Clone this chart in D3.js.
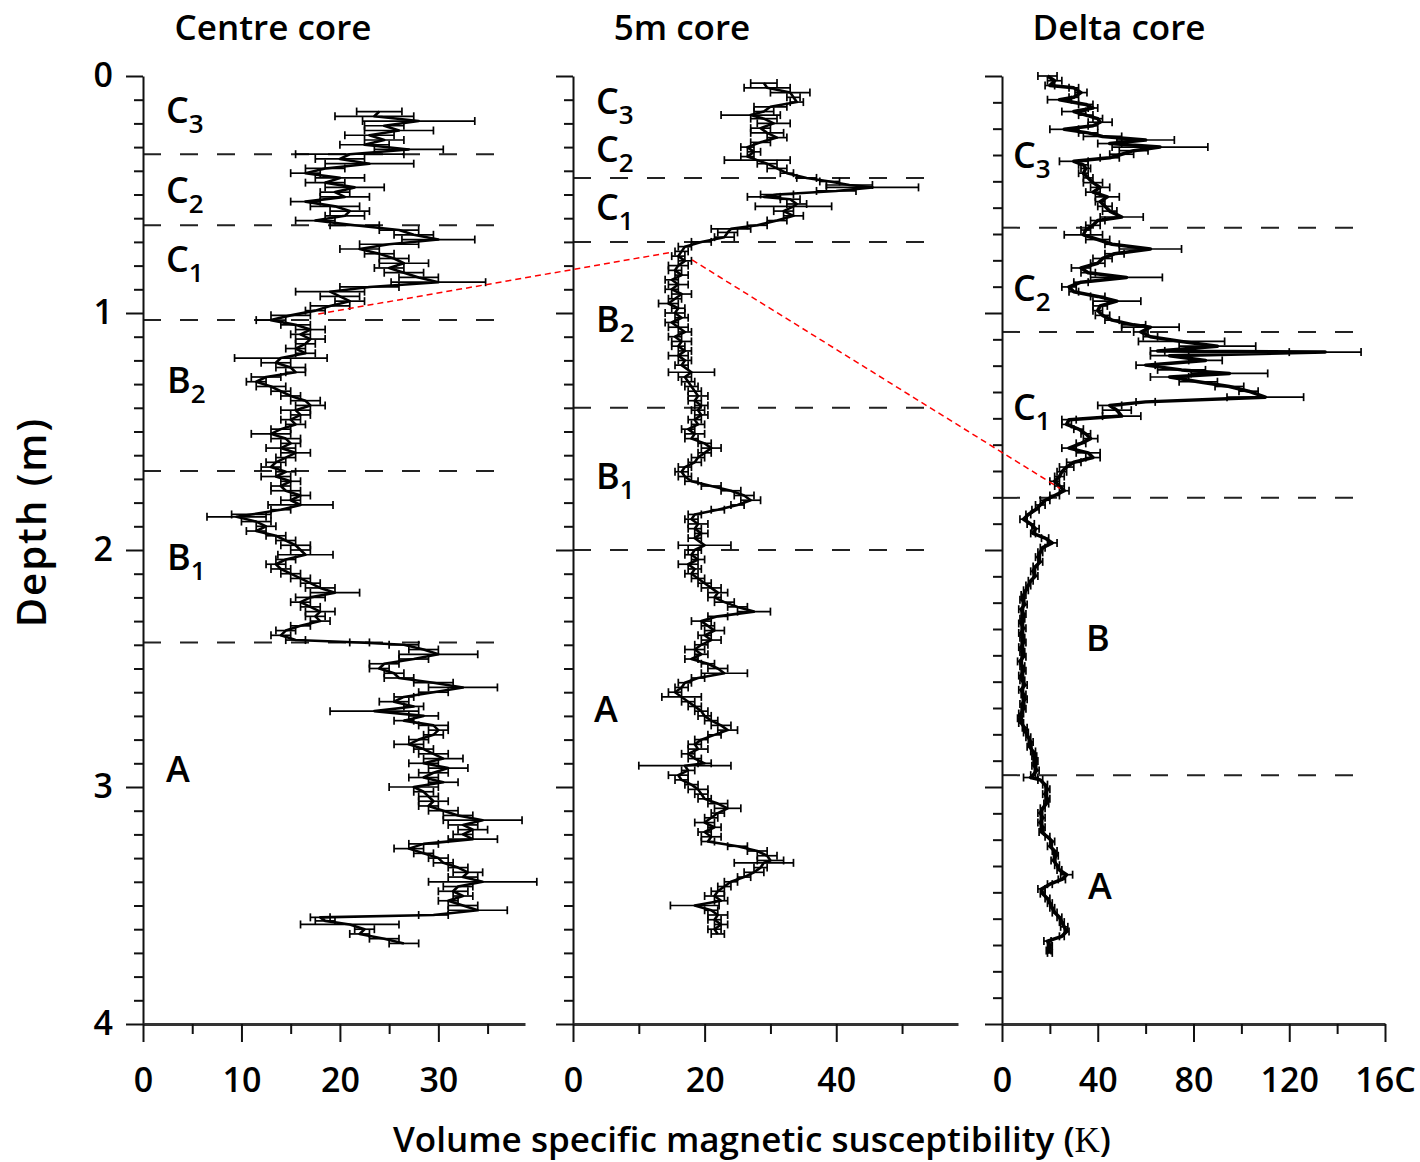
<!DOCTYPE html>
<html>
<head>
<meta charset="utf-8">
<title>Magnetic susceptibility cores</title>
<script src="https://cdn.jsdelivr.net/npm/d3@7"></script>
<style>
  body { margin: 0; background: #fff; }
  text { font-family: "Open Sans", "Noto Sans", sans-serif; fill: #000; }
</style>
</head>
<body>
<div id="chart"></div>
<script>
var width = 1420, height = 1162;

// ---- data (depth m, susceptibility, error half-width) ----
var coreNames = ["Centre core", "5m core", "Delta core"];
var xMax = [38.8, 58.5, 160];
var xMajor = [[0, 10, 20, 30], [0, 20, 40], [0, 40, 80, 120, 160]];
var xMinor = [[5, 15, 25, 35], [10, 30, 50], [20, 60, 100, 140]];
var xTickText = [["0", "10", "20", "30"], ["0", "20", "40"], ["0", "40", "80", "120", "16C"]];
var depthTicks = [0, 1, 2, 3, 4];
var minorPerMetre = [10, 10, 9];
var boundaries = [[0.33, 0.63, 1.03, 1.667, 2.39], [0.43, 0.70, 1.40, 2.0], [0.64, 1.08, 1.78, 2.95]];

var centreCore = [
  [0.15,24,2.3],[0.17,23.5,4],[0.19,28,5.7],[0.21,24.5,2],[0.23,26,3.5],[0.25,23,2.5],[0.27,24.5,2],
  [0.29,22.5,2.5],[0.31,27,3.5],[0.33,21,5.5],[0.35,20,2.5],[0.37,23,4.5],[0.39,18.5,2],[0.41,16.5,1.5],
  [0.43,20,2.5],[0.45,18.5,2],[0.47,21.5,3],[0.49,19.5,1.5],[0.51,20.5,2.5],[0.53,16.5,1.5],[0.55,19.5,2.5],
  [0.57,21,2],[0.59,20.5,2],[0.61,17.5,2],[0.63,21.5,2.5],[0.65,26,2],[0.67,27.5,2],[0.69,30,3.7],
  [0.71,25,3],[0.73,22,2],[0.75,24,1.5],[0.77,25.5,1.5],[0.79,26.5,2.5],[0.81,25,1.5],[0.83,26.5,2],
  [0.85,28,2],[0.87,30,4.8],[0.89,23,3],[0.91,19,3.5],[0.93,20,2],[0.95,21,1.5],[0.97,19,2],[0.99,17.5,1],
  [1.01,15,2],[1.03,13,1.5],[1.05,15.5,1.5],[1.07,17,1.5],[1.09,16,1],[1.11,17,1.5],[1.13,16.5,1],
  [1.15,15.5,1],[1.17,16.5,1],[1.19,14,4.7],[1.21,13.5,1.5],[1.23,15,1.5],[1.25,15.5,1],[1.27,12.5,1.5],
  [1.29,11.5,1],[1.31,13,1.5],[1.33,14,1],[1.35,15,1],[1.37,16.5,1.5],[1.39,17,1.5],[1.41,15.5,1.5],
  [1.43,16,1],[1.45,15,1],[1.47,15.5,1],[1.49,14,1],[1.51,13,2],[1.53,14.5,1.5],[1.55,15,1],[1.57,14,1.5],
  [1.59,15.5,1.5],[1.61,14.5,1],[1.63,13.5,1],[1.65,13,1],[1.67,14.5,1],[1.69,13.5,1.5],[1.71,15,1],
  [1.73,14,1],[1.75,14.5,1.5],[1.77,16,1],[1.79,15,1],[1.81,16,3.3],[1.83,14,1],[1.85,11,2],[1.86,9.5,3],
  [1.88,11.5,1.5],[1.90,12.5,1],[1.92,11.5,1],[1.94,13.5,1],[1.96,14.5,1],[1.98,15.5,1.5],[2.00,16,1],
  [2.02,16.5,2.8],[2.04,14.5,1],[2.06,13.5,1],[2.08,14,1],[2.10,15,1],[2.12,16,1],[2.14,17,1],[2.16,18,1.5],
  [2.18,19.5,2.5],[2.20,17,1.5],[2.22,16,1],[2.24,17,1],[2.26,18,1.5],[2.28,17.5,1],[2.30,18,1],[2.32,16,1],
  [2.34,14.5,1],[2.36,14,1],[2.38,15.5,1],[2.39,22,1],[2.40,26.5,1.5],[2.42,28.5,1.5],[2.44,30,4],
  [2.46,27.5,1.5],[2.48,24.5,1.5],[2.50,24,1],[2.52,25.5,1],[2.54,26,1.5],[2.56,29.5,2],[2.58,32.5,3.5],
  [2.60,29.5,1.5],[2.62,26.5,1],[2.64,25.5,1.5],[2.66,27.5,1],[2.68,23.5,4.5],[2.70,28.5,1.5],[2.72,26.5,1],
  [2.74,29.5,1.5],[2.76,30,1],[2.78,29.5,1],[2.80,28,1],[2.82,27,1.5],[2.84,28.5,1],[2.86,29.5,1.5],
  [2.88,30.5,2],[2.90,28.5,1.5],[2.92,31,2],[2.94,29.5,1.5],[2.96,28.5,1.5],[2.98,30.5,1.5],[3.00,27.5,2.5],
  [3.02,28.5,1],[3.04,29,1],[3.06,29.5,1.5],[3.08,29,1],[3.10,30.5,1.5],[3.12,32,1.5],[3.14,34.5,4],
  [3.16,32.5,1.5],[3.18,33.5,1.5],[3.20,32.5,1],[3.22,33.5,2.5],[3.24,28.5,1.5],[3.26,27,1.5],[3.28,28.5,1],
  [3.30,30,1],[3.32,30.5,1],[3.34,32,1],[3.36,33,1.5],[3.38,32.5,1.5],[3.40,34.5,5.5],[3.42,32,1.5],
  [3.44,31.5,1.5],[3.46,32.5,1],[3.48,31,1],[3.50,32.5,1.5],[3.52,34,3],[3.54,29.5,1.5],[3.55,18,1],
  [3.565,18.5,1],[3.58,21,5],[3.60,22.5,1],[3.62,22,1],[3.64,24.5,1.5],[3.66,26.5,1.5]
];

var fiveMetreCore = [
  [0.03,29,2],[0.05,29.5,3.5],[0.07,33,3],[0.09,33.5,1],[0.11,34,1],[0.13,30,2.5],[0.15,29,1.5],
  [0.165,27,4.5],[0.18,29,2],[0.20,30.5,2.5],[0.22,28.5,1.5],[0.24,29.5,2.5],[0.26,31,1.5],[0.28,28.5,1.5],
  [0.30,26.5,1],[0.32,27.5,1],[0.34,26.5,1],[0.355,28,5],[0.37,29.5,1.5],[0.39,31,1.5],[0.41,32.5,1],
  [0.43,35.5,1.5],[0.445,39,1.5],[0.46,42,3.5],[0.47,45.5,7],[0.485,40,3],[0.50,31,2.5],[0.51,29,2.5],
  [0.52,33,1.5],[0.54,34,1.5],[0.55,33.5,5.8],[0.57,32,1.5],[0.59,33.5,1.5],[0.61,31,1.5],[0.63,28,1.5],
  [0.645,24,3],[0.66,23.5,1.5],[0.68,23,1.5],[0.70,19.5,1.5],[0.72,17,1],[0.74,16.5,1],[0.76,16,1],
  [0.78,17,1],[0.80,16,1.5],[0.82,15.5,1],[0.84,16.5,1],[0.86,15,1],[0.88,16,1.5],[0.90,15,1],
  [0.92,16.5,1.5],[0.94,15.5,1],[0.96,14.5,1.5],[0.98,16,1],[1.00,15.5,1.5],[1.02,16.5,1],[1.04,15,1],
  [1.06,16,1.5],[1.08,17,1],[1.10,15.5,1],[1.12,16.5,1.5],[1.14,16,1],[1.16,17,1],[1.18,16,1.5],
  [1.20,17,1],[1.22,16.5,1],[1.25,18,3.5],[1.27,17,1],[1.29,17.5,1],[1.31,18,1],[1.33,18.5,1],
  [1.35,19,1.5],[1.37,18.5,1],[1.39,19.5,1],[1.41,19,1],[1.43,19.5,1],[1.45,18.5,1],[1.47,19,1],
  [1.49,17.5,1],[1.51,18.5,1.5],[1.53,18,1],[1.55,20,1],[1.57,21,1.5],[1.59,20,1],[1.61,19,1],
  [1.63,18.5,1],[1.65,17,1],[1.67,16.5,1],[1.69,17,1],[1.71,18,1],[1.73,21,1.5],[1.75,24,1.5],
  [1.77,26,1.5],[1.79,27,1.5],[1.81,25,1],[1.83,22,1],[1.85,18.5,1],[1.87,18,1],[1.89,19,1.5],
  [1.91,18.5,1],[1.93,19.5,1],[1.95,18.5,1],[1.98,20,4],[2.00,18.5,1],[2.02,18,1],[2.04,19,1],
  [2.06,17.5,1.5],[2.08,18.5,1],[2.10,18,1],[2.12,19,1],[2.14,20,1],[2.16,21,1.5],[2.18,22,1.5],
  [2.20,21.5,1],[2.22,23,1.5],[2.24,25,1.5],[2.26,27.5,2.5],[2.28,22,1.5],[2.30,19.5,1.5],[2.32,20.5,1],
  [2.34,21.5,1.5],[2.36,20,1],[2.38,21,1.5],[2.40,19.5,1],[2.42,18.5,1.5],[2.44,19.5,1],[2.46,18,1],
  [2.48,20.5,1],[2.50,22,1.5],[2.52,23,3.5],[2.54,19,1],[2.56,17,1],[2.58,16.5,1],[2.60,15.5,1],
  [2.62,16.5,3],[2.64,17.5,1],[2.66,18.5,1],[2.68,19.5,1],[2.70,20,1],[2.72,21,1],[2.74,22.5,1.5],
  [2.76,23.5,1.5],[2.78,21.5,1],[2.80,19.5,1],[2.82,18.5,1],[2.84,19,1.5],[2.86,17.5,1],[2.88,18.5,1],
  [2.90,20,1],[2.91,17,7],[2.93,17.5,1],[2.95,16,1.5],[2.97,16.5,1],[2.99,18,1],[3.01,19,1.5],
  [3.03,19.5,1],[3.05,20,1],[3.07,22,1.5],[3.09,23.5,2],[3.11,22,1],[3.13,21,1],[3.15,20,1.5],
  [3.17,21.5,1],[3.19,20,1],[3.21,21,1.5],[3.23,20.5,1],[3.25,25,1.5],[3.27,28,1.5],[3.29,29.5,1.5],
  [3.31,30,2],[3.32,29,4.5],[3.34,28.5,1],[3.36,27.5,1.5],[3.38,26,1],[3.40,24,1],[3.42,23,1],
  [3.44,22,1],[3.46,21.5,1.5],[3.48,22.5,1],[3.50,18.5,3.7],[3.52,21,1],[3.54,22,1.5],[3.56,21.5,1],
  [3.58,22.5,1],[3.60,21.5,1],[3.62,22,1]
];

var deltaCore = [
  [0.00,19,4],[0.02,22,3],[0.04,20,2],[0.05,30,2],[0.07,33,2.5],[0.09,30,2],[0.10,24,5],[0.12,35,3],
  [0.135,38,2],[0.15,30,5],[0.165,35,3],[0.18,40,2],[0.195,41,5],[0.21,38,2],[0.225,26,6],[0.24,36,4],
  [0.255,42,8],[0.27,60,12],[0.285,45,5],[0.30,66,20],[0.315,55,6],[0.33,50,5],[0.345,45,4],[0.36,30,6],
  [0.375,34,2],[0.39,35,2],[0.41,34,2],[0.43,36,2],[0.45,38,4],[0.47,41,4],[0.49,38,3],[0.51,44,5],
  [0.53,41,2],[0.55,43,3],[0.57,45,3],[0.595,50,9],[0.61,40,3],[0.63,38,3],[0.65,35,2],[0.67,34,8],
  [0.69,40,5],[0.71,46,3],[0.73,62,13],[0.75,47,4],[0.77,42,4],[0.79,40,3],[0.81,33,4],[0.83,36,3],
  [0.85,52,15],[0.87,33,3],[0.89,28,3],[0.91,30,2],[0.93,40,3],[0.95,48,10],[0.97,41,3],[0.99,40,2],
  [1.01,42,3],[1.03,46,3],[1.05,55,5],[1.06,62,12],[1.08,58,3],[1.10,62,3],[1.12,75,18],[1.14,90,16],
  [1.16,65,3],[1.165,135,15],[1.18,70,8],[1.20,85,7],[1.22,60,4],[1.24,75,10],[1.255,95,16],[1.27,70,8],
  [1.29,82,8],[1.31,95,6],[1.33,103,4],[1.355,110,16],[1.375,60,4],[1.39,45,5],[1.41,48,6],[1.435,50,8],
  [1.45,28,3],[1.47,27,2],[1.49,32,2],[1.51,35,2],[1.53,37,3],[1.55,33,2],[1.57,28,3],[1.59,36,5],
  [1.61,38,3],[1.63,30,3],[1.65,27,3],[1.67,25,2],[1.69,24,2],[1.71,22,2],[1.73,24,2],[1.75,26,2],
  [1.77,22,2],[1.79,18,2],[1.81,16,2],[1.83,14,1.5],[1.85,11,1],[1.87,9,1.5],[1.89,12,1.5],[1.91,14,1.5],
  [1.93,13,1],[1.95,18,1.5],[1.97,21,2],[1.99,17,1],[2.01,16,1],[2.03,15,1],[2.05,16,1],[2.07,14,1],
  [2.09,13,1],[2.11,14,1],[2.13,12,1],[2.15,11,1],[2.17,10,1],[2.19,9,1],[2.21,8.5,1],[2.23,9.5,1],
  [2.25,8,1],[2.27,9,1],[2.29,8.5,1],[2.31,8,1],[2.33,9,1],[2.35,8,1],[2.37,8.5,1],[2.39,9,1],
  [2.41,8,1],[2.43,8.5,1],[2.45,9,1],[2.47,7.5,1],[2.49,8.5,1],[2.51,9,1],[2.53,8,1],[2.55,8.5,1],
  [2.57,9.5,1],[2.59,8,1],[2.61,9,1],[2.63,9.5,1],[2.65,8.5,1],[2.67,9,1],[2.69,8,1],[2.71,7.5,1],
  [2.73,8,1],[2.75,9.5,1],[2.77,10,1],[2.79,11,1],[2.81,12,1],[2.83,11.5,1],[2.85,13,1],[2.87,13.5,1],
  [2.89,14,1],[2.91,13.5,1],[2.93,14.5,1],[2.95,13,1],[2.96,12,3],[2.97,16,1],[2.99,18,1],[3.01,19,1],
  [3.03,18,1],[3.05,19,1],[3.07,18.5,1],[3.09,17,1],[3.11,16,1],[3.13,17,1],[3.15,16,1],[3.17,17,1],
  [3.19,16.5,1],[3.21,19,1],[3.23,21,1],[3.25,20,1],[3.27,22,1],[3.29,22.5,1],[3.31,21.5,1],[3.33,23,1],
  [3.35,24,1],[3.37,27,2.5],[3.39,25,1.5],[3.41,20,1],[3.43,16.5,1.5],[3.45,17,1],[3.47,19,1],[3.49,20,1],
  [3.51,21,1],[3.53,22,1],[3.55,24,1],[3.57,25,1],[3.59,26,1.5],[3.61,27,1],[3.63,25,1],[3.65,19,1.5],
  [3.67,20,1],[3.69,19.5,1],[3.70,20,1]
];
var cores = [centreCore, fiveMetreCore, deltaCore];

// zone labels: [panel, letter, subscript]
var zoneLabels = [
  [0, "C", "3"], [0, "C", "2"], [0, "C", "1"], [0, "B", "2"], [0, "B", "1"], [0, "A", ""],
  [1, "C", "3"], [1, "C", "2"], [1, "C", "1"], [1, "B", "2"], [1, "B", "1"], [1, "A", ""],
  [2, "C", "3"], [2, "C", "2"], [2, "C", "1"], [2, "B", ""], [2, "A", ""]
];
// correlation tie points: [panel, value, depth]
var tiePoints = [[0, 17.8, 1.004], [1, 15.1, 0.743], [1, 18.1, 0.776], [2, 24.2, 1.74]];

// ---- layout ----
var panelLeft = [143, 573, 1002];
var panelRight = [525, 958, 1385];
var dashRight = [505, 935, 1367];
var titleX = [273, 682, 1119];
// label anchor pixels [x, baseline]
var labelPos = [
  [166, 123], [166, 203], [166, 272], [167, 393], [167, 570], [166, 782],
  [596, 114], [596, 162], [596, 220], [596, 332], [596, 489], [594, 722],
  [1013, 168], [1013, 301], [1013, 420], [1086, 651], [1088, 899]
];

var svg = d3.select("#chart").append("svg").attr("width", width).attr("height", height);

var y = d3.scaleLinear().domain([0, 4]).range([76, 1024]);
var xs = xMax.map(function(m, i) {
  return d3.scaleLinear().domain([0, m]).range([panelLeft[i], panelRight[i]]);
});

cores.forEach(function(data, i) {
  var x = xs[i];
  var g = svg.append("g");

  // zone boundaries
  g.selectAll(".zone").data(boundaries[i]).enter().append("line")
    .attr("x1", panelLeft[i]).attr("x2", dashRight[i])
    .attr("y1", function(d) { return y(d); }).attr("y2", function(d) { return y(d); })
    .attr("stroke", "#222").attr("stroke-width", 2).attr("stroke-dasharray", "18,19");

  // y axis major + minor
  var yMajor = d3.axisLeft(y).tickValues(depthTicks).tickSize(17).tickSizeOuter(0).tickPadding(13)
    .tickFormat(i === 0 ? d3.format("d") : "");
  var ya = g.append("g").attr("transform", "translate(" + panelLeft[i] + ",0)").call(yMajor);
  var n = minorPerMetre[i];
  var minorVals = d3.range(0, 4 * n + 1).map(function(k) { return k / n; })
    .filter(function(v) { return Math.abs(v - Math.round(v)) > 1e-6; });
  var ym = g.append("g").attr("transform", "translate(" + panelLeft[i] + ",0)")
    .call(d3.axisLeft(y).tickValues(minorVals).tickSize(9).tickFormat(""));
  ym.select(".domain").remove();

  // x axis
  var xa = g.append("g").attr("transform", "translate(0," + y(4) + ")")
    .call(d3.axisBottom(x).tickValues(xMajor[i]).tickSize(18).tickSizeOuter(0).tickPadding(26)
      .tickFormat(function(d, k) { return xTickText[i][k]; }));
  var xm = g.append("g").attr("transform", "translate(0," + y(4) + ")")
    .call(d3.axisBottom(x).tickValues(xMinor[i]).tickSize(10).tickFormat(""));
  xm.select(".domain").remove();

  [ya, ym, xa, xm].forEach(function(a) {
    a.selectAll("line").attr("stroke", "#111").attr("stroke-width", 2);
    a.selectAll("text").attr("font-size", 34).attr("font-weight", 600)
      .attr("font-family", "Open Sans, sans-serif");
  });
  ya.select(".domain").attr("stroke", "#111").attr("stroke-width", 2);
  xa.select(".domain").attr("stroke", "#333").attr("stroke-width", 3);

  // error bars
  var eb = g.append("g").attr("stroke", "#000").attr("stroke-width", 1.7);
  eb.selectAll(".bar").data(data).enter().append("line")
    .attr("x1", function(d) { return x(d[1] - d[2]); })
    .attr("x2", function(d) { return x(d[1] + d[2]); })
    .attr("y1", function(d) { return y(d[0]); }).attr("y2", function(d) { return y(d[0]); });
  [-1, 1].forEach(function(s) {
    eb.selectAll(".cap" + s).data(data).enter().append("line")
      .attr("x1", function(d) { return x(d[1] + s * d[2]); })
      .attr("x2", function(d) { return x(d[1] + s * d[2]); })
      .attr("y1", function(d) { return y(d[0]) - 4; })
      .attr("y2", function(d) { return y(d[0]) + 4; });
  });

  // trace
  g.append("path").datum(data)
    .attr("fill", "none").attr("stroke", "#000").attr("stroke-width", i === 2 ? 3.5 : 2.6)
    .attr("stroke-linejoin", "round")
    .attr("d", d3.line().x(function(d) { return x(d[1]); }).y(function(d) { return y(d[0]); }));

  // title
  svg.append("text").attr("x", titleX[i]).attr("y", 40).attr("text-anchor", "middle")
    .attr("font-size", 35).attr("font-weight", 600).text(coreNames[i]);
});

// zone letters
zoneLabels.forEach(function(l, k) {
  var t = svg.append("text").attr("x", labelPos[k][0]).attr("y", labelPos[k][1])
    .attr("font-size", 36).attr("font-weight", 600).text(l[1]);
  if (l[2]) t.append("tspan").attr("dy", 10).attr("font-size", 26).text(l[2]);
});

// correlation lines
var tieLine = d3.line()
  .x(function(p) { return xs[p[0]](p[1]); })
  .y(function(p) { return y(p[2]); });
[[tiePoints[0], tiePoints[1]], [tiePoints[2], tiePoints[3]]].forEach(function(seg) {
  svg.append("path").attr("d", tieLine(seg)).attr("fill", "none")
    .attr("stroke", "#f00").attr("stroke-width", 1.5).attr("stroke-dasharray", "6,4");
});

// axis titles
svg.append("text").attr("x", 752).attr("y", 1152).attr("text-anchor", "middle")
  .attr("font-size", 35).attr("font-weight", 600)
  .text("Volume specific magnetic susceptibility (")
  .call(function(t) {
    t.append("tspan").attr("font-family", "Liberation Serif, serif").attr("font-weight", 400).text("K");
    t.append("tspan").text(")");
  });
svg.append("text").attr("transform", "translate(46,522) rotate(-90)")
  .attr("text-anchor", "middle").attr("font-size", 40).attr("font-weight", 600)
  .attr("letter-spacing", 2).text("Depth (m)");
</script>
</body>
</html>
